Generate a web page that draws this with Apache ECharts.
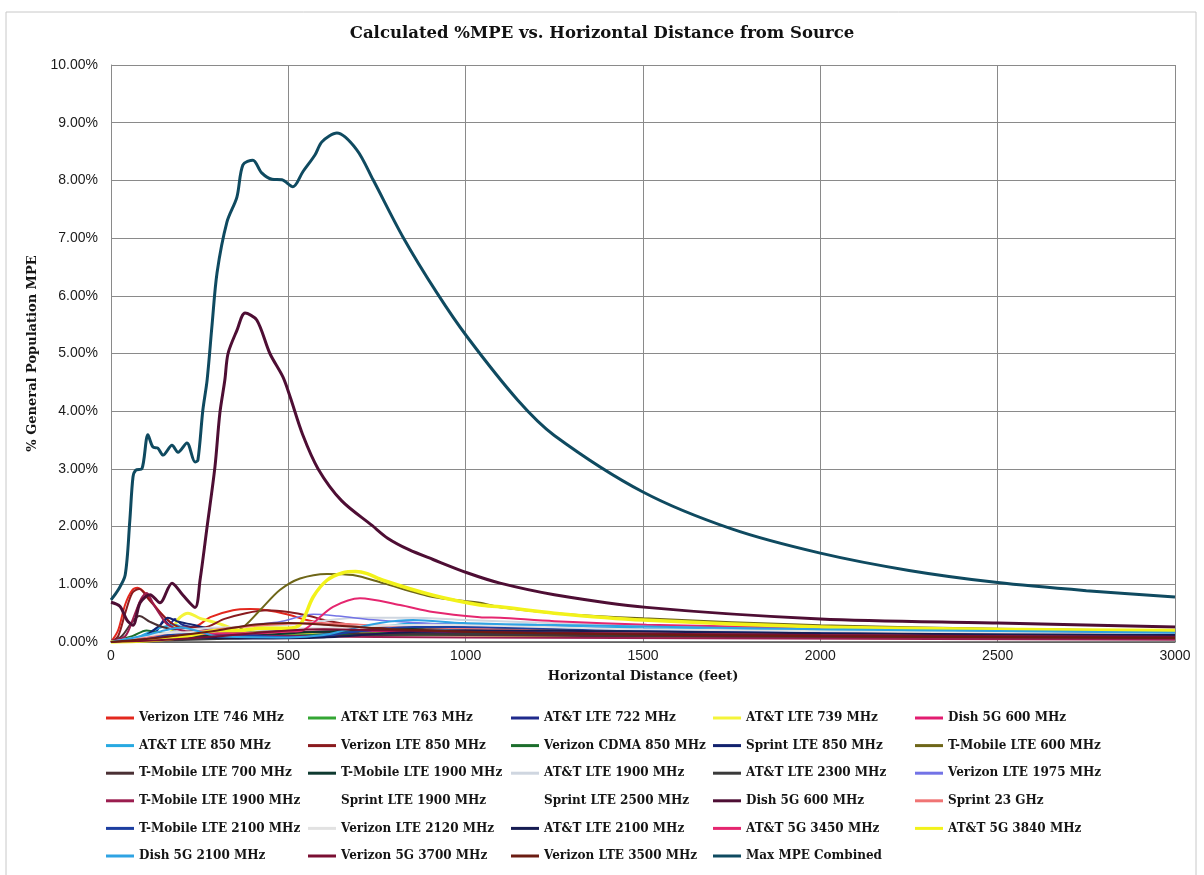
<!DOCTYPE html>
<html>
<head>
<meta charset="utf-8">
<script src="https://cdn.jsdelivr.net/npm/echarts@6/dist/echarts.min.js"></script>
<style>
  html, body { margin: 0; background: #fff; }
  #chart { width: 1204px; height: 875px; }
</style>
</head>
<body>
<div id="chart"></div>
<script>
// Distance (feet) vs %MPE values
const verizonLte746 = [[0,0],[20,0.2],[40,0.65],[60,0.9],[75,0.94],[100,0.82],[130,0.58],[160,0.38],[190,0.25],[230,0.25],[280,0.43],[344,0.55],[392,0.57],[440,0.55],[496,0.48],[552,0.38],[620,0.3],[700,0.26],[850,0.2],[1000,0.17],[1500,0.12],[2000,0.1],[3000,0.07]];
const attLte763 = [[0,0],[100,0.08],[200,0.12],[400,0.1],[700,0.15],[1000,0.18],[2000,0.15],[3000,0.12]];
const attLte722 = [[0,0],[60,0.02],[100,0.1],[130,0.2],[150,0.38],[165,0.3],[180,0.4],[200,0.3],[240,0.25],[300,0.2],[400,0.15],[500,0.12],[600,0.15],[800,0.2],[1000,0.2],[1500,0.16],[2000,0.13],[3000,0.1]];
const attLte739 = [[0,0],[60,0.03],[120,0.08],[163,0.12],[180,0.3],[195,0.43],[217,0.5],[251,0.41],[299,0.33],[364,0.2],[420,0.18],[500,0.15],[700,0.14],[1000,0.12],[2000,0.08],[3000,0.06]];
const dish5g600Pink = [[0,0],[80,0.05],[150,0.12],[250,0.18],[350,0.2],[450,0.22],[550,0.22],[700,0.2],[1000,0.17],[2000,0.12],[3000,0.09]];
const attLte850 = [[0,0],[60,0.05],[100,0.15],[140,0.25],[180,0.3],[220,0.2],[300,0.12],[500,0.1],[700,0.2],[850,0.32],[1000,0.3],[1500,0.24],[2000,0.2],[3000,0.15]];
const verizonLte850 = [[0,0],[20,0.1],[40,0.5],[60,0.85],[80,0.92],[105,0.75],[140,0.5],[170,0.33],[200,0.25],[260,0.25],[320,0.4],[380,0.5],[440,0.55],[500,0.52],[560,0.45],[609,0.37],[722,0.26],[900,0.2],[1200,0.15],[2000,0.1],[3000,0.07]];
const verizonCdma850 = [[0,0],[60,0.1],[100,0.2],[150,0.15],[300,0.1],[600,0.12],[1000,0.13],[2000,0.1],[3000,0.08]];
const sprintLte850 = [[0,0],[80,0.05],[140,0.3],[160,0.42],[190,0.35],[230,0.3],[300,0.2],[400,0.12],[600,0.1],[900,0.15],[1500,0.13],[3000,0.09]];
const tmobileLte600 = [[0,0.02],[100,0.05],[200,0.08],[300,0.12],[364,0.22],[420,0.55],[476,0.9],[533,1.1],[609,1.18],[682,1.16],[767,1.02],[908,0.78],[1040,0.68],[1097,0.6],[1250,0.5],[1500,0.41],[2000,0.29],[2500,0.23],[3000,0.19]];
const tmobileLte700 = [[0,0],[30,0.1],[60,0.35],[80,0.45],[110,0.35],[150,0.25],[200,0.2],[300,0.18],[400,0.2],[500,0.18],[700,0.15],[1000,0.12],[2000,0.08],[3000,0.06]];
const tmobileLte1900a = [[0,0],[100,0.05],[200,0.12],[300,0.1],[600,0.18],[900,0.24],[1200,0.22],[2000,0.17],[3000,0.13]];
const attLte1900 = [[0,0],[100,0.1],[200,0.2],[300,0.25],[500,0.3],[700,0.42],[850,0.42],[1000,0.38],[1500,0.28],[2000,0.22],[3000,0.15]];
const attLte2300 = [[0,0],[100,0.02],[300,0.05],[600,0.1],[1000,0.14],[2000,0.13],[3000,0.11]];
const verizonLte1975 = [[0,0],[100,0.05],[200,0.12],[300,0.2],[400,0.3],[476,0.35],[570,0.48],[640,0.45],[750,0.38],[900,0.32],[1200,0.26],[1500,0.22],[2000,0.17],[3000,0.12]];
const tmobileLte1900b = [[0,0.02],[40,0.1],[65,0.45],[85,0.75],[101,0.85],[120,0.65],[143,0.43],[160,0.3],[200,0.2],[260,0.15],[350,0.12],[500,0.1],[1000,0.08],[3000,0.04]];
const sprintLte1900 = [[0,0],[3000,0]];
const sprintLte2500 = [[0,0],[3000,0]];
const dish5g600 = [[0,0.69],[25,0.62],[45,0.38],[62,0.29],[82,0.68],[110,0.82],[138,0.68],[172,1.02],[203,0.81],[237,0.6],[251,1.07],[271,2.0],[293,3.03],[307,3.97],[321,4.54],[330,5.0],[355,5.4],[378,5.7],[411,5.58],[448,5.0],[485,4.59],[505,4.25],[540,3.6],[584,3.0],[650,2.45],[736,2.02],[780,1.8],[840,1.6],[908,1.43],[1004,1.2],[1097,1.02],[1250,0.82],[1510,0.6],[2000,0.4],[2500,0.33],[3000,0.26]];
const sprint23ghz = [[0,0],[100,0.08],[200,0.15],[300,0.22],[450,0.3],[560,0.33],[700,0.3],[900,0.25],[1500,0.17],[3000,0.1]];
const tmobileLte2100 = [[0,0],[100,0.05],[200,0.15],[300,0.15],[500,0.08],[600,0.1],[665,0.16],[851,0.26],[992,0.26],[1200,0.24],[1500,0.21],[2000,0.17],[2500,0.14],[3000,0.12]];
const verizonLte2120 = [[0,0],[150,0.15],[300,0.18],[600,0.25],[900,0.3],[1500,0.22],[3000,0.13]];
const attLte2100 = [[0,0],[100,0.03],[200,0.08],[400,0.06],[600,0.08],[800,0.16],[1000,0.2],[1500,0.18],[2000,0.15],[3000,0.12]];
const att5g3450 = [[0,0],[100,0.03],[200,0.1],[300,0.15],[400,0.15],[500,0.18],[540,0.2],[570,0.33],[626,0.61],[702,0.76],[815,0.64],[908,0.52],[1040,0.43],[1097,0.42],[1250,0.36],[1510,0.3],[2000,0.24],[2500,0.2],[3000,0.17]];
const att5g3840 = [[0,0],[100,0.02],[200,0.08],[300,0.2],[364,0.2],[420,0.24],[496,0.24],[533,0.3],[570,0.78],[609,1.07],[654,1.2],[690,1.22],[720,1.19],[767,1.07],[908,0.81],[1040,0.64],[1097,0.61],[1250,0.5],[1500,0.38],[2000,0.26],[2500,0.22],[3000,0.2]];
const dish5g2100 = [[0,0],[100,0.12],[150,0.2],[200,0.25],[250,0.18],[300,0.1],[500,0.08],[600,0.12],[665,0.21],[758,0.33],[851,0.38],[992,0.33],[1200,0.3],[1500,0.27],[2000,0.22],[2500,0.19],[3000,0.16]];
const verizon5g3700 = [[0,0],[100,0.02],[300,0.1],[500,0.2],[600,0.22],[800,0.2],[1200,0.16],[2000,0.12],[3000,0.09]];
const verizonLte3500 = [[0,0],[100,0.05],[200,0.12],[300,0.2],[400,0.3],[500,0.33],[600,0.3],[800,0.22],[1200,0.15],[2000,0.1],[3000,0.07]];
const maxCombined = [[0,0.73],[20,0.9],[40,1.16],[53,2.1],[62,2.86],[70,2.98],[87,3.0],[104,3.59],[118,3.38],[132,3.36],[147,3.24],[172,3.41],[189,3.29],[214,3.45],[237,3.12],[245,3.15],[259,4.02],[271,4.54],[285,5.5],[299,6.4],[327,7.28],[355,7.71],[372,8.27],[400,8.35],[425,8.13],[454,8.02],[482,8.01],[513,7.89],[541,8.15],[575,8.44],[595,8.67],[637,8.82],[693,8.53],[739,8.01],[823,7.02],[919,6.05],[1004,5.29],[1147,4.19],[1250,3.58],[1500,2.6],[1750,1.96],[2000,1.54],[2250,1.24],[2500,1.03],[2750,0.89],[3000,0.78]];

// name, data, colour, line width  (legend order, row by row)
const seriesList = [
  ['Verizon LTE 746 MHz', verizonLte746, '#e3281e', 2],
  ['AT&T LTE 763 MHz', attLte763, '#34a634', 2],
  ['AT&T LTE 722 MHz', attLte722, '#1f2a8c', 2],
  ['AT&T LTE 739 MHz', attLte739, '#f4f43a', 3],
  ['Dish 5G 600 MHz', dish5g600Pink, '#e21c70', 2],
  ['AT&T LTE 850 MHz', attLte850, '#27a9e1', 2],
  ['Verizon LTE 850 MHz', verizonLte850, '#8a1a1e', 2],
  ['Verizon CDMA 850 MHz', verizonCdma850, '#1c6e2c', 2],
  ['Sprint LTE 850 MHz', sprintLte850, '#12226e', 2],
  ['T-Mobile LTE 600 MHz', tmobileLte600, '#6e6618', 2],
  ['T-Mobile LTE 700 MHz', tmobileLte700, '#4a3034', 2],
  ['T-Mobile LTE 1900 MHz', tmobileLte1900a, '#0e3a30', 2],
  ['AT&T LTE 1900 MHz', attLte1900, '#cfd6e0', 2],
  ['AT&T LTE 2300 MHz', attLte2300, '#3a3a3a', 2],
  ['Verizon LTE 1975 MHz', verizonLte1975, '#7373e6', 1.5],
  ['T-Mobile LTE 1900 MHz#2', tmobileLte1900b, '#9b1d4f', 2],
  ['Sprint LTE 1900 MHz', sprintLte1900, 'rgba(255,255,255,0)', 0],
  ['Sprint LTE 2500 MHz', sprintLte2500, 'rgba(255,255,255,0)', 0],
  ['Dish 5G 600 MHz#2', dish5g600, '#4e0e34', 3],
  ['Sprint 23 GHz', sprint23ghz, '#f07474', 2],
  ['T-Mobile LTE 2100 MHz', tmobileLte2100, '#1c3ea0', 2],
  ['Verizon LTE 2120 MHz', verizonLte2120, '#e2e2e2', 2],
  ['AT&T LTE 2100 MHz', attLte2100, '#161c52', 2],
  ['AT&T 5G 3450 MHz', att5g3450, '#e5266f', 2],
  ['AT&T 5G 3840 MHz', att5g3840, '#f2f21a', 3.5],
  ['Dish 5G 2100 MHz', dish5g2100, '#2fa3e3', 2],
  ['Verizon 5G 3700 MHz', verizon5g3700, '#7a0f32', 2],
  ['Verizon LTE 3500 MHz', verizonLte3500, '#6b1c12', 2],
  ['Max MPE Combined', maxCombined, '#0f4a60', 3]
];

const legendLefts = [106, 308, 511, 713, 915];

var chart = echarts.init(document.getElementById('chart'));

const serifFont = 'DejaVu Serif';

// one vertical legend per column so the columns line up like the original
const legends = legendLefts.map((left, col) => ({
  orient: 'vertical',
  left: left,
  top: 711,
  padding: 0,
  icon: 'rect',
  itemWidth: 28,
  itemHeight: 3,
  itemGap: 13.6,
  selectedMode: false,
  formatter: name => name.replace('#2', ''),
  textStyle: { fontFamily: serifFont, fontWeight: 'bold', fontSize: 12, lineHeight: 14, color: '#151515' },
  data: seriesList.filter((s, i) => i % 5 === col).map(s => s[0])
}));

chart.setOption({
  animation: false,
  backgroundColor: '#fff',
  title: {
    text: 'Calculated %MPE vs. Horizontal Distance from Source',
    left: 'center',
    top: 20,
    textStyle: { fontFamily: serifFont, fontWeight: 'bold', fontSize: 16.5, color: '#111' }
  },
  legend: legends,
  graphic: [{
    type: 'rect',
    shape: { x: 6, y: 12, width: 1190, height: 880 },
    style: { fill: 'none', stroke: '#c8c8c8', lineWidth: 1 },
    silent: true
  }],
  grid: { left: 111, right: 29, top: 65, bottom: 233 },
  xAxis: {
    type: 'value',
    min: 0,
    max: 3000,
    interval: 500,
    name: 'Horizontal Distance (feet)',
    nameLocation: 'middle',
    nameGap: 28,
    nameTextStyle: { fontFamily: serifFont, fontWeight: 'bold', fontSize: 13, color: '#151515' },
    axisLine: { lineStyle: { color: '#555', width: 1.5 } },
    axisTick: { show: false },
    axisLabel: { fontFamily: 'Liberation Sans', fontSize: 14, color: '#1a1a1a', margin: 7, formatter: v => String(v) },
    splitLine: { lineStyle: { color: '#8a8a8a', width: 1 } }
  },
  yAxis: {
    type: 'value',
    min: 0,
    max: 10,
    interval: 1,
    name: '% General Population MPE',
    nameLocation: 'middle',
    nameGap: 69,
    nameTextStyle: { fontFamily: serifFont, fontWeight: 'bold', fontSize: 13, color: '#151515' },
    axisLine: { show: true, lineStyle: { color: '#8a8a8a', width: 1 } },
    axisTick: { show: false },
    axisLabel: { fontFamily: 'Liberation Sans', fontSize: 14, color: '#1a1a1a', margin: 13, formatter: v => v.toFixed(2) + '%' },
    splitLine: { lineStyle: { color: '#8a8a8a', width: 1 } }
  },
  series: seriesList.map(s => ({
    name: s[0],
    type: 'line',
    data: s[1],
    smooth: 0.3,
    showSymbol: false,
    itemStyle: { color: s[2] },
    lineStyle: { color: s[2], width: s[3] }
  }))
});
</script>
</body>
</html>
